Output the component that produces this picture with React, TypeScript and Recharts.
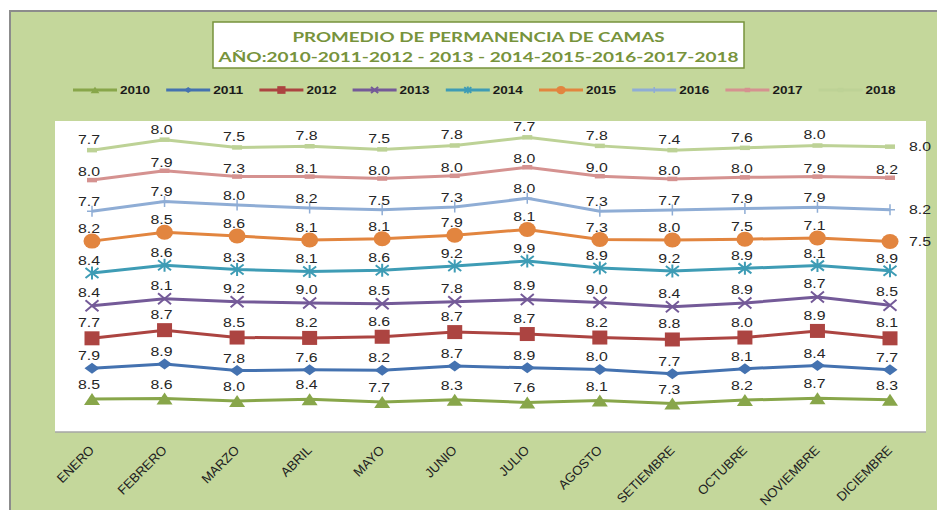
import React from "react";
import { LineChart, Line, XAxis, YAxis, CartesianGrid } from "recharts";

// meses (eje X)
const MESES = [
  "ENERO", "FEBRERO", "MARZO", "ABRIL", "MAYO", "JUNIO",
  "JULIO", "AGOSTO", "SETIEMBRE", "OCTUBRE", "NOVIEMBRE", "DICIEMBRE",
];

// promedio de permanencia por año
const A2010 = [8.5, 8.6, 8.0, 8.4, 7.7, 8.3, 7.6, 8.1, 7.3, 8.2, 8.7, 8.3];
const A2011 = [7.9, 8.9, 7.8, 7.6, 8.2, 8.7, 8.9, 8.0, 7.7, 8.1, 8.4, 7.7];
const A2012 = [7.7, 8.7, 8.5, 8.2, 8.6, 8.7, 8.7, 8.2, 8.8, 8.0, 8.9, 8.1];
const A2013 = [8.4, 8.1, 9.2, 9.0, 8.5, 7.8, 8.9, 9.0, 8.4, 8.9, 8.7, 8.5];
const A2014 = [8.4, 8.6, 8.3, 8.1, 8.6, 9.2, 9.9, 8.9, 9.2, 8.9, 8.1, 8.9];
const A2015 = [8.2, 8.5, 8.6, 8.1, 8.1, 7.9, 8.1, 7.3, 8.0, 7.5, 7.1, 7.5];
const A2016 = [7.7, 7.9, 8.0, 8.2, 7.5, 7.3, 8.0, 7.3, 7.7, 7.9, 7.9, 8.2];
const A2017 = [8.0, 7.9, 7.3, 8.1, 8.0, 8.0, 8.0, 9.0, 8.0, 8.0, 7.9, 8.2];
const A2018 = [7.7, 8.0, 7.5, 7.8, 7.5, 7.8, 7.7, 7.8, 7.4, 7.6, 8.0, 8.0];

const SERIES = [
  { key: "a2010", name: "2010", values: A2010, color: "#88a64a", marker: "triangle", up: 14, right: false },
  { key: "a2011", name: "2011", values: A2011, color: "#4472b0", marker: "diamond", up: 12, right: false },
  { key: "a2012", name: "2012", values: A2012, color: "#ac4441", marker: "square", up: 15, right: false },
  { key: "a2013", name: "2013", values: A2013, color: "#745a98", marker: "cross", up: 13, right: false },
  { key: "a2014", name: "2014", values: A2014, color: "#3e9cb5", marker: "star", up: 12, right: false },
  { key: "a2015", name: "2015", values: A2015, color: "#e2853f", marker: "circle", up: 12, right: true },
  { key: "a2016", name: "2016", values: A2016, color: "#8fadd5", marker: "plus", up: 9, right: true },
  { key: "a2017", name: "2017", values: A2017, color: "#d59290", marker: "dash", up: 8, right: false },
  { key: "a2018", name: "2018", values: A2018, color: "#bdd296", marker: "dash", up: 10, right: true },
];

// líneas apiladas: cada serie se dibuja sobre la suma de las anteriores
const rows = MESES.map((mes, i) => {
  const row: any = { mes };
  let acc = 0;
  SERIES.forEach((s) => {
    acc += s.values[i];
    row[s.key] = Math.round(acc * 100) / 100;
  });
  return row;
});

const LABEL_FONT = "'Liberation Sans', Arial, sans-serif";

function marker(kind: string, x: number, y: number, color: string, k = 1) {
  switch (kind) {
    case "triangle":
      return <polygon points={`${x},${y - 6 * k} ${x + 8 * k},${y + 6 * k} ${x - 8 * k},${y + 6 * k}`} fill={color} />;
    case "diamond":
      return <polygon points={`${x},${y - 5.5 * k} ${x + 7.5 * k},${y} ${x},${y + 5.5 * k} ${x - 7.5 * k},${y}`} fill={color} />;
    case "square":
      return <rect x={x - 7.5 * k} y={y - 7 * k} width={15 * k} height={14 * k} fill={color} />;
    case "cross":
      return (
        <path
          d={`M${x - 6.5 * k},${y - 5.5 * k}L${x + 6.5 * k},${y + 5.5 * k}M${x - 6.5 * k},${y + 5.5 * k}L${x + 6.5 * k},${y - 5.5 * k}`}
          stroke={color}
          strokeWidth={2}
        />
      );
    case "star":
      return (
        <path
          d={`M${x - 6.5 * k},${y - 5 * k}L${x + 6.5 * k},${y + 5 * k}M${x - 6.5 * k},${y + 5 * k}L${x + 6.5 * k},${y - 5 * k}M${x},${y - 6.5 * k}L${x},${y + 6.5 * k}`}
          stroke={color}
          strokeWidth={2}
        />
      );
    case "circle":
      return <ellipse cx={x} cy={y} rx={8.5 * k} ry={7.5 * k} fill={color} />;
    case "plus":
      return (
        <path
          d={`M${x},${y - 5.5 * k}L${x},${y + 5.5 * k}M${x - 5 * k},${y}L${x + 5 * k},${y}`}
          stroke={color}
          strokeWidth={1.5}
        />
      );
    default:
      return <path d={`M${x - 5 * k},${y}L${x + 5 * k},${y}`} stroke={color} strokeWidth={4.5} />;
  }
}

const makeDot = (s: any) => (props: any) => {
  const { cx, cy, index } = props;
  const last = index === MESES.length - 1;
  const toRight = last && s.right;
  const lx = toRight ? cx + 30 : cx - 3;
  const ly = toRight ? cy + 4 : cy - s.up + 4;
  return (
    <g key={`${s.key}-${index}`}>
      {marker(s.marker, cx, cy, s.color)}
      <text
        x={lx}
        y={ly}
        textAnchor="middle"
        fontFamily={LABEL_FONT}
        fontSize={12}
        fill="#262626"
        textLength={22}
        lengthAdjust="spacingAndGlyphs"
      >
        {s.values[index].toFixed(1)}
      </text>
    </g>
  );
};

const MonthTick = ({ x, y, payload }: any) => (
  <text
    x={x + 3}
    y={y + 11}
    transform={`rotate(-45 ${x + 3} ${y + 11})`}
    textAnchor="end"
    fontFamily={LABEL_FONT}
    fontSize={13}
    fill="#222222"
  >
    {payload.value}
  </text>
);

function Header() {
  return (
    <svg width={937} height={110} style={{ position: "absolute", left: 0, top: 0, pointerEvents: "none" }}>
      <rect x={213} y={22} width={531} height={46} fill="#ffffff" stroke="#77933c" strokeWidth={1.5} />
      <text
        x={478.5}
        y={42}
        textAnchor="middle"
        fontFamily="Lato, 'Liberation Sans', sans-serif"
        fontWeight="bold"
        fontSize={14}
        fill="#77933c"
        textLength={372}
        lengthAdjust="spacingAndGlyphs"
      >
        PROMEDIO DE PERMANENCIA DE CAMAS
      </text>
      <text
        x={478.5}
        y={62}
        textAnchor="middle"
        fontFamily="Lato, 'Liberation Sans', sans-serif"
        fontWeight="bold"
        fontSize={14}
        fill="#77933c"
        textLength={520}
        lengthAdjust="spacingAndGlyphs"
      >
        AÑO:2010-2011-2012 - 2013 - 2014-2015-2016-2017-2018
      </text>
      {SERIES.map((s, i) => {
        const x = 73 + i * 93.2;
        return (
          <g key={s.key}>
            <line x1={x} y1={90} x2={x + 44} y2={90} stroke={s.color} strokeWidth={3} />
            {marker(s.marker, x + 22, 90, s.color, 0.55)}
            <text
              x={x + 47}
              y={94}
              fontFamily={LABEL_FONT}
              fontWeight="bold"
              fontSize={11}
              fill="#1a1a1a"
              textLength={30}
              lengthAdjust="spacingAndGlyphs"
            >
              {s.name}
            </text>
          </g>
        );
      })}
    </svg>
  );
}

export default function App() {
  return (
    <div style={{ position: "absolute", left: 0, top: 0, width: 937, height: 510, overflow: "hidden" }}>
      <div
        style={{
          position: "absolute",
          left: 9,
          top: 10,
          width: 960,
          height: 540,
          background: "#c4d79b",
          borderLeft: "2px solid #8c8c8c",
          borderTop: "2px solid #8c8c8c",
        }}
      />
      <div style={{ position: "absolute", left: 0, top: 0 }}>
        <LineChart width={937} height={510} data={rows} margin={{ top: 121, right: 11, bottom: 0, left: 55 }}>
          <CartesianGrid fill="#ffffff" horizontal={false} vertical={false} stroke="none" />
          <XAxis
            dataKey="mes"
            interval={0}
            padding={{ left: 37, right: 36 }}
            height={78}
            tickLine={false}
            axisLine={{ stroke: "#a6a6a6", strokeWidth: 1.5 }}
            tick={<MonthTick />}
          />
          <YAxis hide type="number" domain={[0, 80]} />
          {SERIES.map((s) => (
            <Line
              key={s.key}
              dataKey={s.key}
              name={s.name}
              stroke={s.color}
              strokeWidth={3}
              dot={makeDot(s)}
              activeDot={false}
              isAnimationActive={false}
            />
          ))}
        </LineChart>
      </div>
      <Header />
    </div>
  );
}
